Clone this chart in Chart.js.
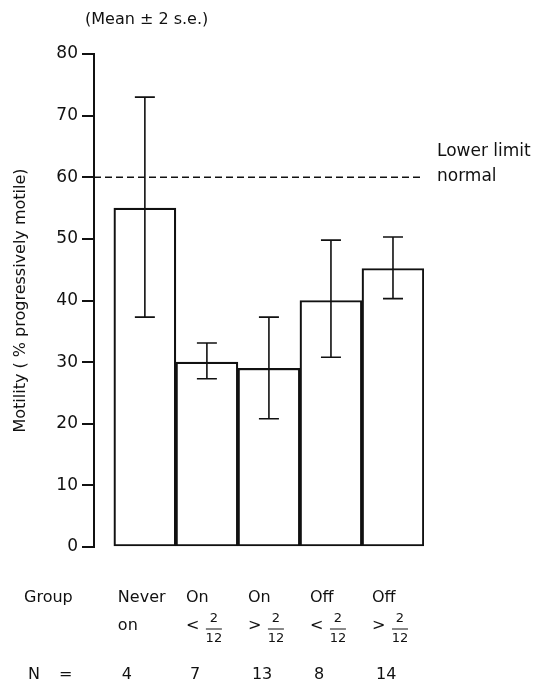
<!DOCTYPE html>
<html>
<head>
<meta charset="utf-8">
<script src="https://cdn.jsdelivr.net/npm/chart.js@4/dist/chart.umd.min.js"></script>
<style>
  html, body { margin: 0; padding: 0; background: #fff; }
  #wrap { width: 539px; height: 682px; position: relative; }
</style>
</head>
<body>
<div id="wrap"><canvas id="motilityChart"></canvas></div>
<script>
// 데이터
const groupLine1 = ['Never', 'On', 'On', 'Off', 'Off'];
const groupLine2 = ['on', '<', '>', '<', '>'];
const groupFraction = ['', '2/12', '2/12', '2/12', '2/12'];
const nValues = ['4', '7', '13', '8', '14'];
const means = [55, 30, 29, 40, 45.2];
const errLow = [37.3, 27.3, 20.8, 30.8, 40.3];
const errHigh = [73, 33.1, 37.3, 49.8, 50.3];
const lowerLimit = 60;
const yTicks = [0, 10, 20, 30, 40, 50, 60, 70, 80];

const FONT = '"DejaVu Sans", "Liberation Sans", sans-serif';
const INK = '#111';

// 오차막대, 기준선, 텍스트 그리기
const extrasPlugin = {
  id: 'extras',
  afterDatasetsDraw(chart) {
    const ctx = chart.ctx;
    const xs = chart.scales.x;
    const ys = chart.scales.y;
    const area = chart.chartArea;

    ctx.save();
    ctx.strokeStyle = INK;

    // 기준선 (lower limit normal)
    ctx.lineWidth = 1.5;
    ctx.setLineDash([7, 4]);
    ctx.beginPath();
    ctx.moveTo(area.left, ys.getPixelForValue(lowerLimit));
    ctx.lineTo(area.right - 4, ys.getPixelForValue(lowerLimit));
    ctx.stroke();
    ctx.setLineDash([]);

    // 오차막대
    ctx.lineWidth = 1.6;
    means.forEach((m, i) => {
      const x = xs.getPixelForValue(i);
      const yLo = ys.getPixelForValue(errLow[i]);
      const yHi = ys.getPixelForValue(errHigh[i]);
      ctx.beginPath();
      ctx.moveTo(x, yLo); ctx.lineTo(x, yHi);
      ctx.moveTo(x - 10, yLo); ctx.lineTo(x + 10, yLo);
      ctx.moveTo(x - 10, yHi); ctx.lineTo(x + 10, yHi);
      ctx.stroke();
    });

    ctx.fillStyle = INK;
    ctx.textBaseline = 'middle';
    ctx.textAlign = 'left';

    // 상단 제목
    ctx.font = '16px ' + FONT;
    ctx.fillText('(Mean \u00b1 2 s.e.)', 85, 20);

    // 기준선 라벨
    ctx.font = '17px ' + FONT;
    ctx.fillText('Lower limit', 437, 152);
    ctx.fillText('normal', 437, 177);

    // 그룹 라벨
    ctx.font = '16px ' + FONT;
    ctx.fillText('Group', 24, 598);
    ctx.fillText('N', 28, 675);
    ctx.fillText('=', 59, 675);

    means.forEach((m, i) => {
      const left = xs.getPixelForValue(i) - (i === 0 ? 27 : 21);
      ctx.font = '16px ' + FONT;
      ctx.fillText(groupLine1[i], left, 598);
      ctx.fillText(groupLine2[i], left, 626);
      if (groupFraction[i]) {
        const parts = groupFraction[i].split('/');
        const fx = left + 28;
        ctx.font = '13px ' + FONT;
        ctx.textAlign = 'center';
        ctx.fillText(parts[0], fx, 619);
        ctx.fillText(parts[1], fx, 639);
        ctx.lineWidth = 1;
        ctx.beginPath();
        ctx.moveTo(fx - 8, 629); ctx.lineTo(fx + 8, 629);
        ctx.stroke();
        ctx.textAlign = 'left';
      }
      ctx.font = '16px ' + FONT;
      ctx.fillText(nValues[i], left + 4, 675);
    });

    ctx.restore();
  }
};

new Chart(document.getElementById('motilityChart'), {
  type: 'bar',
  data: {
    datasets: [{
      data: means.map((v, i) => ({ x: i, y: v })),
      backgroundColor: '#fff',
      borderColor: INK,
      borderWidth: 2.2,
      borderSkipped: false,
      barPercentage: 1,
      categoryPercentage: 1
    }]
  },
  options: {
    responsive: true,
    maintainAspectRatio: false,
    animation: false,
    layout: {
      padding: { top: 54, right: 115, bottom: 135, left: 0 }
    },
    plugins: {
      legend: { display: false },
      tooltip: { enabled: false }
    },
    scales: {
      x: {
        type: 'linear',
        display: false,
        offset: false,
        min: -0.82,
        max: 4.5
      },
      y: {
        min: 0,
        max: 80,
        afterBuildTicks: function(scale) {
          scale.ticks = yTicks.map(v => ({ value: v }));
        },
        afterFit: function(scale) {
          scale.width = 94;
        },
        border: { display: true, color: INK, width: 2 },
        grid: {
          drawOnChartArea: false,
          drawTicks: true,
          tickLength: 12,
          color: INK,
          lineWidth: 2
        },
        ticks: {
          color: INK,
          padding: 4,
          font: { size: 17, family: FONT }
        },
        title: {
          display: true,
          text: 'Motility ( % progressively motile)',
          color: INK,
          padding: { top: 11, bottom: 0 },
          font: { size: 16, family: FONT }
        }
      }
    }
  },
  plugins: [extrasPlugin]
});
</script>
</body>
</html>
